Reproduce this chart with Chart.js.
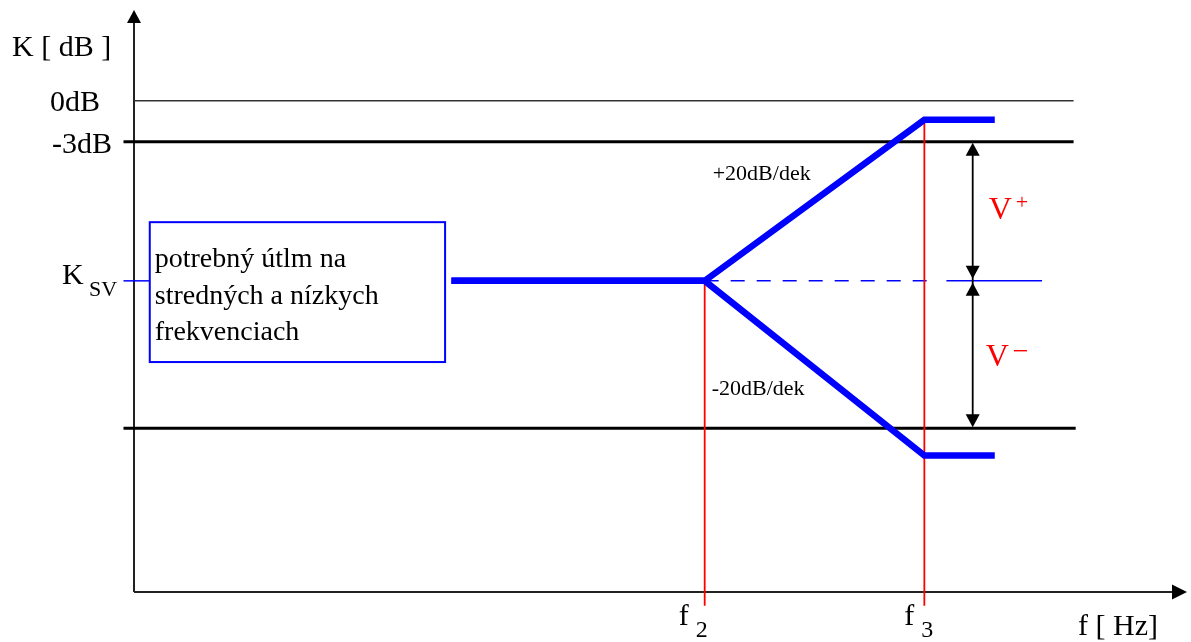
<!DOCTYPE html>
<html>
<head>
<meta charset="utf-8">
<script src="https://cdn.jsdelivr.net/npm/chart.js@4/dist/chart.umd.min.js"></script>
<style>
    html, body { margin: 0; padding: 0; background: #fff; }
    canvas { display: block; }
</style>
</head>
<body>
<canvas id="filter-chart" width="1191" height="642"></canvas>
<script>
// Axis ranges: frequency in relative units, gain in dB
const x_min = 0, x_max = 100;
const y_min = -36, y_max = 6.5;

// Characteristic: flat K_sv, then +/-20dB/dek between f2 and f3, flat again
const freq_points = [30.2, 54.3, 75.2, 81.9];
const gain_rise = [-13.2, -13.2, -1.4, -1.4];
const gain_fall = [-13.2, -13.2, -26, -26];

// Horizontal reference levels
const ref_levels = [0, -3, -24];
const ref_labels = ["0dB", "-3dB", ""];
const ksv_level = -13.2;
const ref_end = 89.4;

// Marked frequencies and their subscripts
const marked_freqs = [54.3, 75.2];
const freq_subs = ["2", "3"];
const arrow_x = 79.8;

const box_lines = ["potrebný útlm na", "stredných a nízkych", "frekvenciach"];

const SERIF = '"Liberation Serif", "Times New Roman", serif';
const BLUE = "#0000ff";
const RED = "#ff0000";

function pts(xs, ys) {
    return xs.map((x, i) => ({x: x, y: ys[i]}));
}

function seg(label, data, colour, width, order, dash) {
    return {
        label: label,
        data: data,
        showLine: true,
        borderColor: colour,
        backgroundColor: colour,
        borderWidth: width,
        borderDash: dash || [],
        pointRadius: 0,
        clip: false,
        order: order
    };
}

let datasets = [];

// reference levels (0dB thin, others thick with a tick left of the axis)
for (let i = 0; i < ref_levels.length; i ++) {
    const start = ref_levels[i] === 0 ? 0 : -1;
    datasets.push(seg("ref " + i,
        [{x: start, y: ref_levels[i]}, {x: ref_end + (i === 2 ? 0.2 : 0), y: ref_levels[i]}],
        i === 0 ? "#333" : "#000", i === 0 ? 1.5 : 3, 5));
}

// K_sv tick, dashed continuation and solid tail
datasets.push(seg("ksv tick", [{x: -1, y: ksv_level}, {x: 1.5, y: ksv_level}], BLUE, 1.5, 4));
datasets.push(seg("ksv dashed", [{x: marked_freqs[0], y: ksv_level}, {x: 76.5, y: ksv_level}], BLUE, 1.5, 4, [14, 12]));
datasets.push(seg("ksv solid", [{x: 77.3, y: ksv_level}, {x: 86.4, y: ksv_level}], BLUE, 1.5, 4));

// red verticals at f2 and f3
datasets.push(seg("f2", [{x: marked_freqs[0], y: ksv_level}, {x: marked_freqs[0], y: -37}], RED, 1.8, 3));
datasets.push(seg("f3", [{x: marked_freqs[1], y: gain_rise[2]}, {x: marked_freqs[1], y: -37}], RED, 1.8, 3));

// the two characteristics
datasets.push(seg("rise", pts(freq_points, gain_rise), BLUE, 6.5, 1));
datasets.push(seg("fall", pts(freq_points, gain_fall), BLUE, 6.5, 1));

function arrowHead(ctx, x, y, dir, len, half) {
    // dir: -1 tip points up, 1 down, 2 right
    ctx.beginPath();
    if (dir === 2) {
        ctx.moveTo(x, y);
        ctx.lineTo(x - len, y - half);
        ctx.lineTo(x - len, y + half);
    } else {
        ctx.moveTo(x, y);
        ctx.lineTo(x - half, y - dir * len);
        ctx.lineTo(x + half, y - dir * len);
    }
    ctx.closePath();
    ctx.fill();
}

const axes_plugin = {
    id: "axes",
    beforeDatasetsDraw(chart) {
        const ctx = chart.ctx;
        const xs = chart.scales.x, ys = chart.scales.y;
        const x0 = xs.getPixelForValue(x_min);
        const y0 = ys.getPixelForValue(y_min);
        ctx.save();
        ctx.strokeStyle = "#222";
        ctx.fillStyle = "#000";
        ctx.lineWidth = 2;
        ctx.beginPath();
        ctx.moveTo(x0, y0);
        ctx.lineTo(x0, chart.chartArea.top + 8);
        ctx.moveTo(x0, y0);
        ctx.lineTo(chart.chartArea.right - 10, y0);
        ctx.stroke();
        arrowHead(ctx, x0, chart.chartArea.top - 2, -1, 13, 7);
        arrowHead(ctx, chart.chartArea.right + 2, y0, 2, 15, 7.5);
        ctx.restore();
    }
};

const notes_plugin = {
    id: "notes",
    afterDatasetsDraw(chart) {
        const ctx = chart.ctx;
        const xs = chart.scales.x, ys = chart.scales.y;
        const x0 = xs.getPixelForValue(x_min);
        ctx.save();

        // text box
        const bx1 = xs.getPixelForValue(1.5), bx2 = xs.getPixelForValue(29.6);
        const by1 = ys.getPixelForValue(-8.9), by2 = ys.getPixelForValue(-19.15);
        ctx.fillStyle = "#fff";
        ctx.fillRect(bx1, by1, bx2 - bx1, by2 - by1);
        ctx.strokeStyle = BLUE;
        ctx.lineWidth = 2;
        ctx.strokeRect(bx1, by1, bx2 - bx1, by2 - by1);
        ctx.fillStyle = "#000";
        ctx.textBaseline = "alphabetic";
        ctx.textAlign = "left";
        ctx.font = "28px " + SERIF;
        for (let i = 0; i < box_lines.length; i ++) {
            ctx.fillText(box_lines[i], bx1 + 5, by1 + 45 + i * 36.5);
        }

        // double arrows V+ and V-
        const ax = xs.getPixelForValue(arrow_x);
        const yt = ys.getPixelForValue(ref_levels[1]);
        const ym = ys.getPixelForValue(ksv_level);
        const yb = ys.getPixelForValue(ref_levels[2]);
        ctx.strokeStyle = "#000";
        ctx.lineWidth = 1.8;
        ctx.beginPath();
        ctx.moveTo(ax, yt + 6);
        ctx.lineTo(ax, yb - 6);
        ctx.stroke();
        arrowHead(ctx, ax, yt + 1, -1, 13, 7);
        arrowHead(ctx, ax, ym - 2, 1, 13, 7);
        arrowHead(ctx, ax, ym + 2, -1, 13, 7);
        arrowHead(ctx, ax, yb - 1, 1, 13, 7);

        // y axis labels
        ctx.font = "30px " + SERIF;
        ctx.fillText("K [ dB ]", x0 - 122, chart.chartArea.top + 44);
        ctx.textAlign = "right";
        ctx.fillText(ref_labels[0], x0 - 34, ys.getPixelForValue(ref_levels[0]) + 10);
        ctx.fillText(ref_labels[1], x0 - 22, ys.getPixelForValue(ref_levels[1]) + 11);
        ctx.textAlign = "left";
        ctx.font = "30px " + SERIF;
        ctx.fillText("K", x0 - 72, ym + 3);
        ctx.font = "22px " + SERIF;
        ctx.fillText("SV", x0 - 45, ym + 15);

        // x axis labels
        const y_axis = ys.getPixelForValue(y_min);
        const f_offsets = [-26, -20];
        for (let i = 0; i < marked_freqs.length; i ++) {
            const fx = xs.getPixelForValue(marked_freqs[i]) + f_offsets[i];
            ctx.font = "30px " + SERIF;
            ctx.fillText("f", fx, y_axis + 33);
            ctx.font = "24px " + SERIF;
            ctx.fillText(freq_subs[i], fx + 17, y_axis + 45);
        }
        ctx.font = "30px " + SERIF;
        ctx.fillText("f [ Hz]", chart.chartArea.right - 107, y_axis + 43);

        // slope notes
        const f2x = xs.getPixelForValue(marked_freqs[0]);
        ctx.font = "22px " + SERIF;
        ctx.fillText("+20dB/dek", f2x + 8, ys.getPixelForValue(-5.8));
        ctx.fillText("-20dB/dek", f2x + 7, ys.getPixelForValue(-21.6));

        // V+ / V-
        ctx.fillStyle = RED;
        ctx.font = "32px " + SERIF;
        ctx.fillText("V", ax + 16, (yt + ym) / 2 + 8);
        ctx.fillText("V", ax + 13, (ym + yb) / 2 + 11);
        ctx.font = "22px " + SERIF;
        ctx.fillText("+", ax + 43, (yt + ym) / 2 - 2);
        ctx.font = "28px " + SERIF;
        ctx.fillText("\u2212", ax + 40, (ym + yb) / 2 + 5);

        ctx.restore();
    }
};

const config = {
    type: "scatter",
    data: { datasets: datasets },
    options: {
        responsive: false,
        animation: false,
        devicePixelRatio: 1,
        layout: {
            padding: { left: 134, right: 6, top: 12, bottom: 50 }
        },
        plugins: {
            legend: { display: false },
            tooltip: { enabled: false }
        },
        scales: {
            x: { type: "linear", min: x_min, max: x_max, display: false },
            y: { type: "linear", min: y_min, max: y_max, display: false }
        }
    },
    plugins: [axes_plugin, notes_plugin]
};

const ctx = document.getElementById("filter-chart").getContext("2d");
const chart = new Chart(ctx, config);
</script>
</body>
</html>
